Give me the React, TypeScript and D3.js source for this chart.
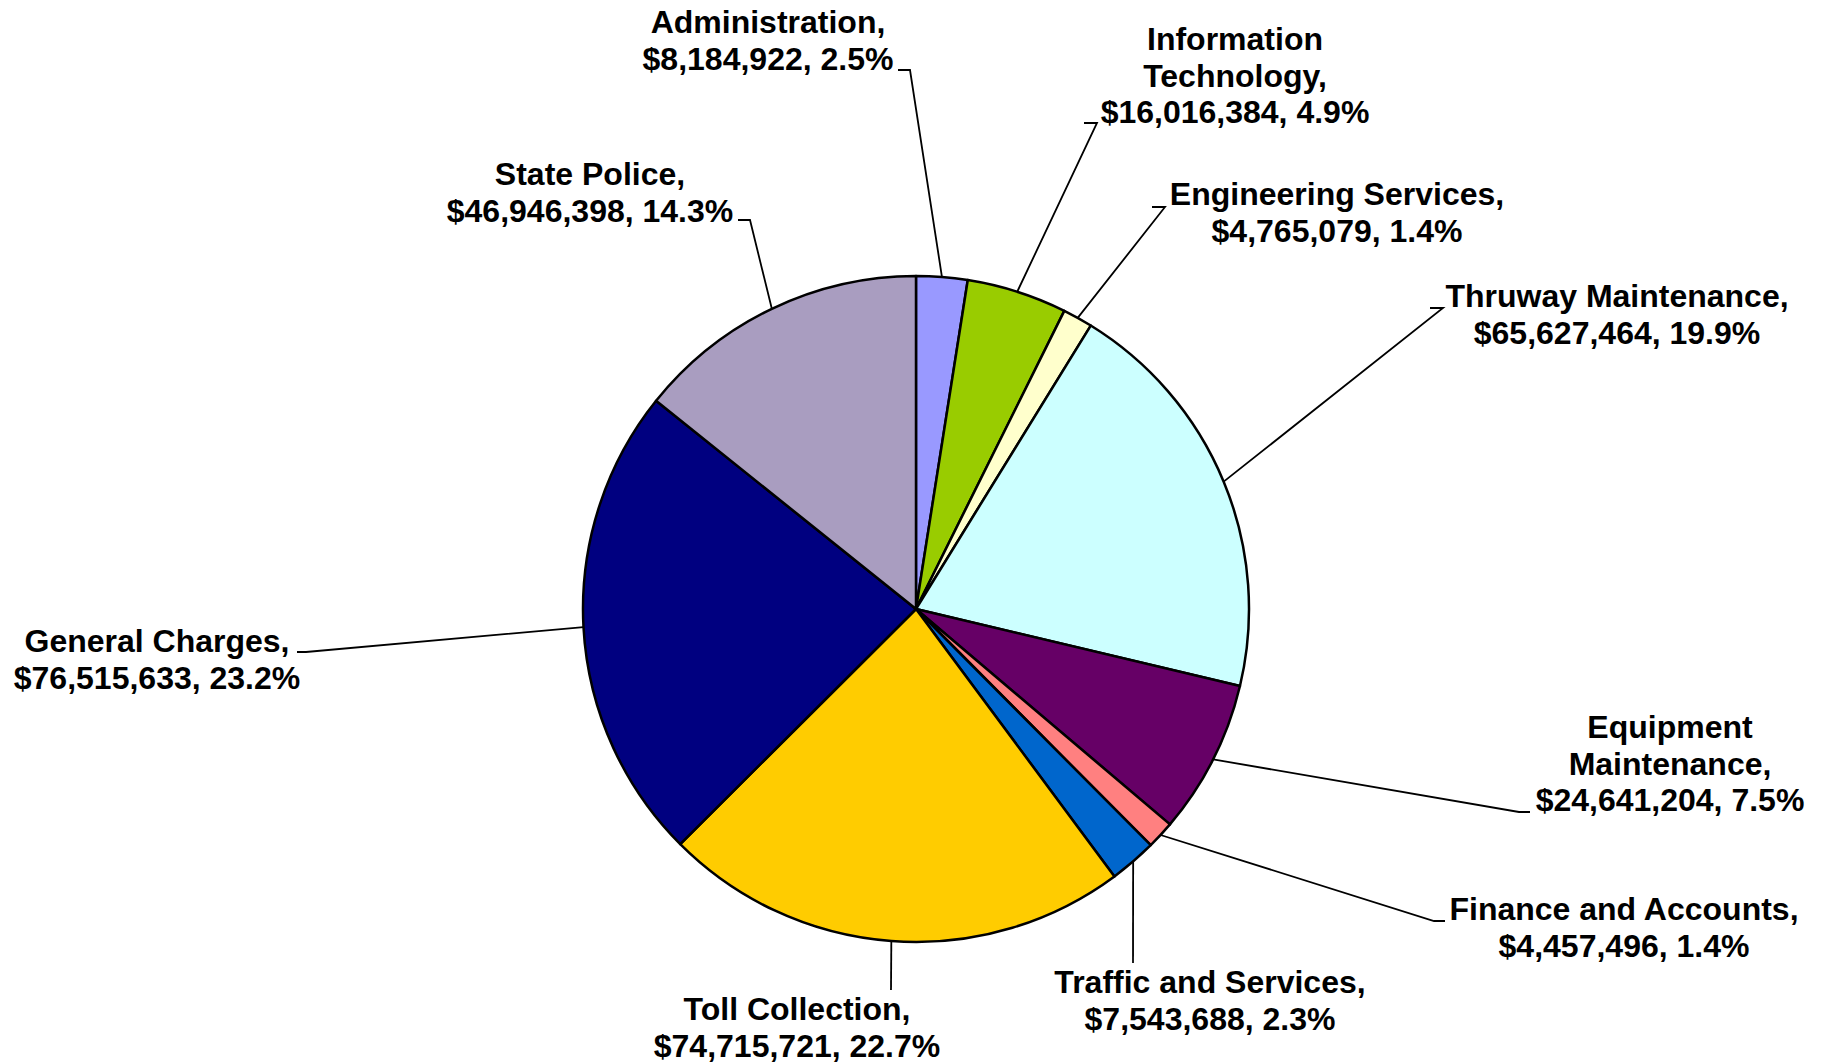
import * as d3 from 'd3';

const CATEGORIES = [
  'Administration',
  'Information Technology',
  'Engineering Services',
  'Thruway Maintenance',
  'Equipment Maintenance',
  'Finance and Accounts',
  'Traffic and Services',
  'Toll Collection',
  'General Charges',
  'State Police',
];

const VALUES = [
  8184922, 16016384, 4765079, 65627464, 24641204, 4457496, 7543688, 74715721, 76515633, 46946398,
];

const COLORS = [
  '#9999FF', '#99CC00', '#FFFFCC', '#CCFFFF', '#660066',
  '#FF8080', '#0066CC', '#FFCC00', '#000080', '#A99DC0',
];

// how each category name wraps in its label
const NAME_LINES = [
  ['Administration,'],
  ['Information', 'Technology,'],
  ['Engineering Services,'],
  ['Thruway Maintenance,'],
  ['Equipment', 'Maintenance,'],
  ['Finance and Accounts,'],
  ['Traffic and Services,'],
  ['Toll Collection,'],
  ['General Charges,'],
  ['State Police,'],
];

// label placement: text centre, first baseline, leader elbow (x,y) and end x
const LABEL_LAYOUT = [
  { cx: 768, y0: 33, ex: 910, ey: 70, tx: 898 },
  { cx: 1235, y0: 50, ex: 1097, ey: 123, tx: 1084 },
  { cx: 1337, y0: 205, ex: 1165, ey: 207, tx: 1152 },
  { cx: 1617, y0: 307, ex: 1443, ey: 308, tx: 1430 },
  { cx: 1670, y0: 738, ex: 1519, ey: 812, tx: 1530 },
  { cx: 1624, y0: 920, ex: 1434, ey: 921, tx: 1445 },
  { cx: 1210, y0: 993, ex: 1133, ey: 963, tx: 1133 },
  { cx: 797, y0: 1020, ex: 891, ey: 990, tx: 891 },
  { cx: 157, y0: 652, ex: 306, ey: 652, tx: 297 },
  { cx: 590, y0: 185, ex: 750, ey: 220, tx: 738 },
];

const W = 1822;
const H = 1064;
const CX = 916;
const CY = 609;
const R = 333;
const LINE_H = 36.5;

export default function App() {
  const total = d3.sum(VALUES);
  const pie = d3.pie<number>().sort(null).value((d) => d);
  const arcs = pie(VALUES);
  const arc = d3.arc<d3.PieArcDatum<number>>().innerRadius(0).outerRadius(R);
  const edge = d3.arc<d3.PieArcDatum<number>>().innerRadius(R).outerRadius(R);
  const fmtMoney = d3.format('$,');
  const fmtPct = d3.format('.1%');

  return (
    <svg
      width={W}
      height={H}
      style={{ position: 'absolute', left: 0, top: 0, background: '#fff' }}
      fontFamily="'Liberation Sans', Arial, sans-serif"
      fontWeight="bold"
      fontSize={32}
    >
      <g transform={`translate(${CX},${CY})`}>
        {arcs.map((a, i) => (
          <path key={CATEGORIES[i]} d={arc(a) || ''} fill={COLORS[i]} stroke="#000" strokeWidth={2.5} strokeLinejoin="round" />
        ))}
      </g>
      {arcs.map((a, i) => {
        const [px, py] = edge.centroid(a);
        const L = LABEL_LAYOUT[i];
        const lines = [...NAME_LINES[i], `${fmtMoney(VALUES[i])}, ${fmtPct(VALUES[i] / total)}`];
        return (
          <g key={CATEGORIES[i]}>
            <polyline
              points={`${CX + px},${CY + py} ${L.ex},${L.ey} ${L.tx},${L.ey}`}
              fill="none"
              stroke="#000"
              strokeWidth={1.8}
            />
            <text textAnchor="middle" fill="#000">
              {lines.map((t, j) => (
                <tspan key={j} x={L.cx} y={L.y0 + j * LINE_H}>{t}</tspan>
              ))}
            </text>
          </g>
        );
      })}
    </svg>
  );
}
